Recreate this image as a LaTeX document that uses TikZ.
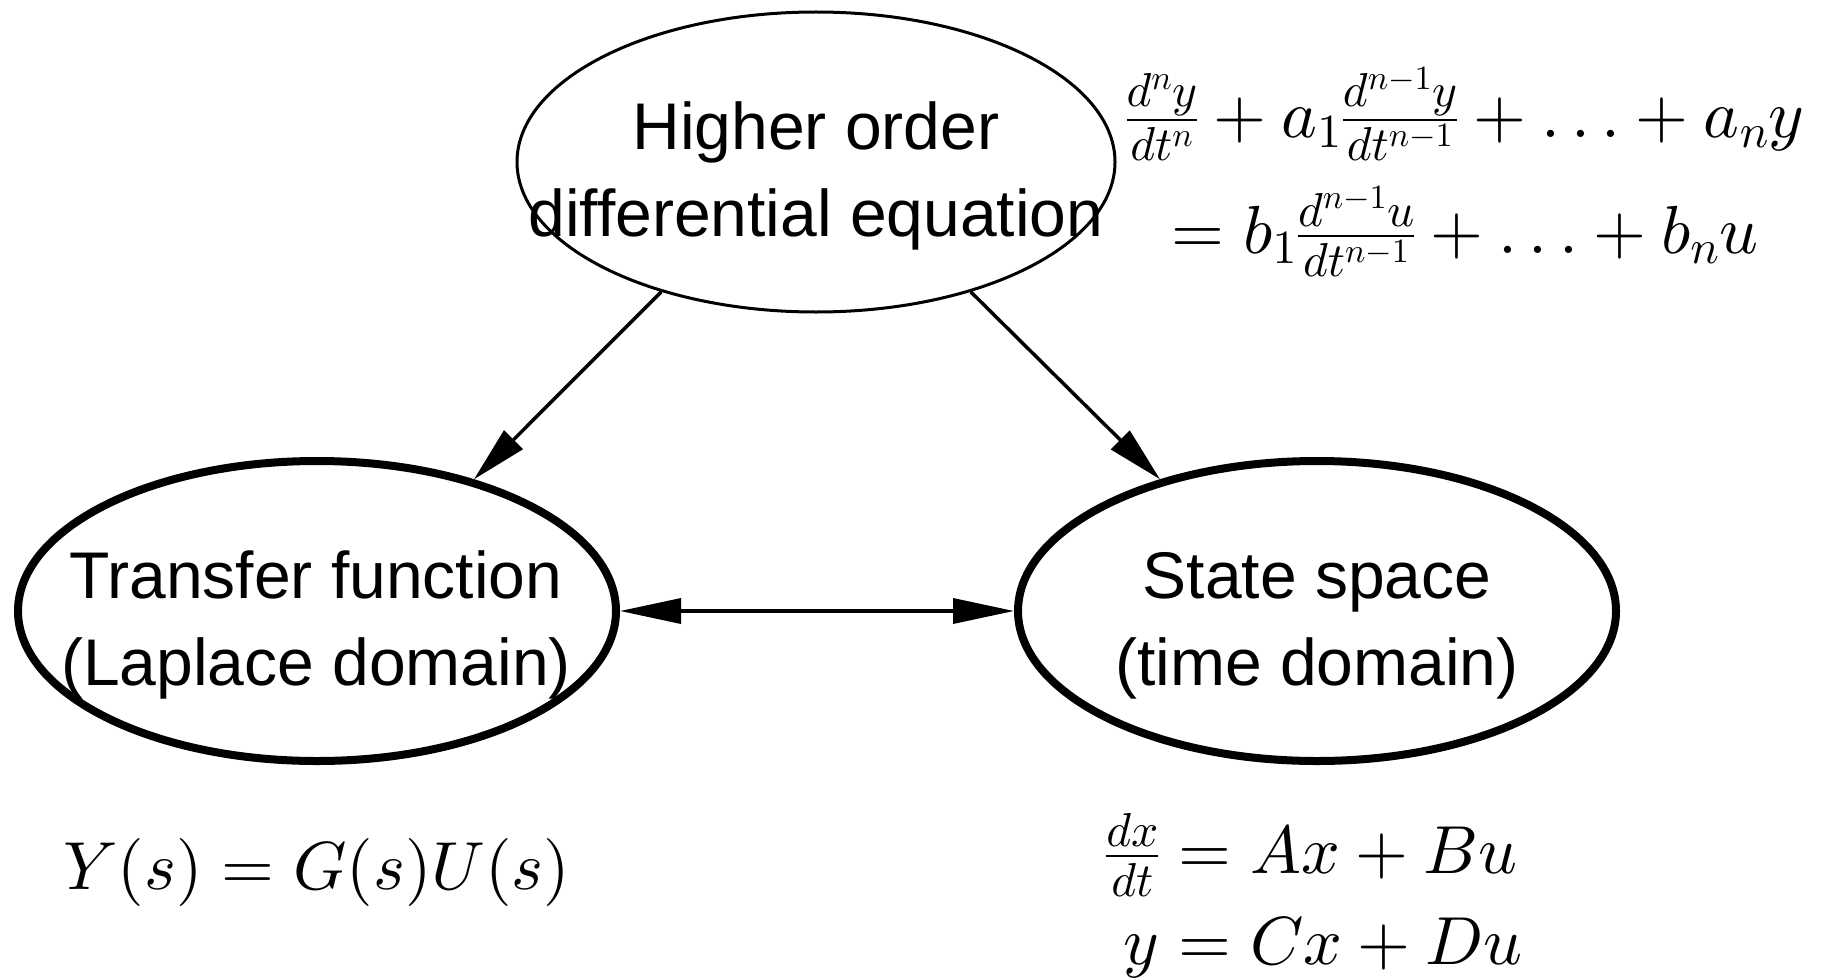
\documentclass[tikz,border=0pt]{standalone}
\usepackage{amsmath}
\usepackage{fontspec}
\newfontfamily\labfont{Liberation Sans}
\usetikzlibrary{arrows.meta,shapes.geometric}
\DeclareFontShape{OML}{cmm}{m}{it}{<->cmmi10}{}
\DeclareFontShape{OMS}{cmsy}{m}{n}{<->cmsy10}{}
\DeclareFontShape{OT1}{cmr}{m}{n}{<->cmr10}{}
\DeclareFontShape{OMX}{cmex}{m}{n}{<->cmex10}{}
\begin{document}
\begin{tikzpicture}[x=1pt,y=-1pt,
  lab/.style={font=\labfont\fontsize{66}{87}\selectfont, inner sep=0pt, anchor=base},
  mth/.style={font=\fontsize{68}{80}\selectfont, inner sep=0pt},
  oval/.style={ellipse, draw=black, minimum width=598pt, minimum height=300pt, inner sep=0pt},
  thinoval/.style={oval, line width=3pt},
  thickoval/.style={oval, line width=8pt},
  arr/.style={line width=3.5pt, -{Triangle[length=56pt,width=26pt]}},
  dblarr/.style={line width=3.5pt, {Triangle[length=61pt,width=25pt]}-{Triangle[length=61pt,width=25pt]}}
]
\useasboundingbox (0,0) rectangle (1827,979);

\node[thinoval] (top) at (816,162) {};
\node[thickoval] (left) at (317,611) {};
\node[thickoval] (right) at (1317,611) {};

\node[lab] (toptext) at (816,149) {\begin{tabular}[t]{@{}c@{}}Higher order\\differential equation\end{tabular}};
\node[lab] (lefttext) at (316,598) {\begin{tabular}[t]{@{}c@{}}Transfer function\\(Laplace domain)\end{tabular}};
\node[lab] (righttext) at (1317,598) {\begin{tabular}[t]{@{}c@{}}State space\\(time domain)\end{tabular}};

\draw[arr] (top.220) -- (left.40);
\draw[arr] (top.320) -- (right.140);
\draw[dblarr] (left) -- (right);

\node[mth, anchor=base] (de1) at (1465,137) {$\tfrac{d^ny}{dt^n} + a_1\tfrac{d^{n-1}y}{dt^{n-1}} + \ldots + a_ny$};
\node[mth, anchor=base] (de2) at (1465,253) {$= b_1\tfrac{d^{n-1}u}{dt^{n-1}} + \ldots + b_nu$};

\node[mth, anchor=base west] (tf) at (63,889) {$Y(s) = G(s)U(s)$};

\node[mth, anchor=base west] (ss1) at (1105,873) {$\tfrac{dx}{dt} = Ax + Bu$};
\node[mth, anchor=base west] (ss2) at (1105,964) {$\hphantom{\tfrac{dx}{dt}}\llap{$y$} = Cx + Du$};
\end{tikzpicture}
\end{document}
